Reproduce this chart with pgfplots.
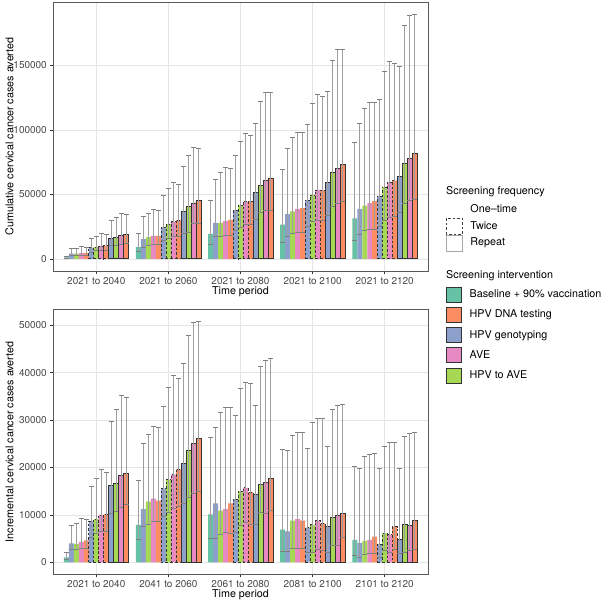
\documentclass[border=0pt]{standalone}
\usepackage{pgfplots}
\pgfplotsset{compat=1.18}
\usepackage{fontspec}
\setmainfont{TeX Gyre Heros}
\definecolor{cteal}{HTML}{66C2A5}
\definecolor{corange}{HTML}{FC8D62}
\definecolor{cblue}{HTML}{8DA0CB}
\definecolor{cpink}{HTML}{E78AC3}
\definecolor{cgreen}{HTML}{A6D854}

\pgfplotsset{
  panel/.style={
    scale only axis, width=375bp,
    xmin=0.4, xmax=5.6, xtick={1,2,3,4,5},
    axis line style={black!65, line width=0.6bp},
    grid=major, grid style={black!10, line width=0.5bp},
    tick align=outside, tick pos=left, major tick length=2.75bp,
    tick style={black!80, line width=0.5bp},
    ticklabel style={font=\fontsize{10}{12}\selectfont, text=black!72},
    /pgf/number format/assume math mode=true,
    /pgf/number format/fixed, /pgf/number format/1000 sep={},
    scaled y ticks=false,
    label style={font=\fontsize{10.8}{13}\selectfont},
    xlabel={Time period},
    legend cell align=left,
    error bars/error mark=|,
    error bars/error bar style={draw=black!38, solid, line width=0.55bp},
    error bars/error mark options={draw=black!50, solid, mark size=2.4bp, line width=0.6bp},
  },
  one/.style={fill=#1, draw=none},
  two/.style={fill=#1, draw=black!80, dash pattern=on 2.5bp off 2bp, line width=0.6bp},
  rep/.style={fill=#1, draw=black!80, solid, line width=0.6bp},
}

\newcommand{\bs}[3]{%
  \addplot[forget plot, ybar, bar width=0.0692308, bar shift=0pt, #2,
    error bars/.cd, y dir=both, y explicit]
    table[row sep=\\, x expr=\thisrow{g}+(#1)*0.0692308, y=y,
      y error plus expr=\thisrow{hi}-\thisrow{y},
      y error minus expr=\thisrow{y}-\thisrow{lo}] {g y lo hi\\ #3};
}
\newcommand{\keyB}[1]{\addlegendimage{legend image code/.code={\draw[fill=#1, draw=black!80, line width=0.5bp, solid] (0bp,-7.5bp) rectangle (15bp,7.5bp);}}}

\begin{document}
\begin{tikzpicture}
\path[use as bounding box] (0,0) rectangle (603bp,603bp);

% ---------------- top panel: cumulative ----------------
\begin{axis}[panel, at={(53bp,332bp)}, anchor=south west, height=269bp,
  ymin=-9485, ymax=199185, ytick={0,50000,100000,150000},
  ylabel={Cumulative cervical cancer cases averted},
  ylabel style={at={(axis description cs:-0.116,0.5)}, anchor=center},
  xlabel style={at={(axis description cs:0.5,-0.078)}, anchor=center},
  xticklabels={2021 to 2040, 2021 to 2060, 2021 to 2080, 2021 to 2100, 2021 to 2120},
  legend style={at={(axis description cs:1.048,0.259)}, anchor=north west,
    draw=none, fill=none, inner sep=0pt, row sep=0pt, column sep=5.7bp,
    font=\fontsize{10.8}{13}\selectfont},
]
\bs{-6}{one=cteal}{1 1050 700 2000\\ 2 9000 5700 19400\\ 3 19400 11100 45500\\ 4 26400 12900 69500\\ 5 31300 14700 90200\\}
\bs{-5}{one=cblue}{1 4000 2700 7800\\ 2 15200 9000 33000\\ 3 27900 17300 61500\\ 4 34600 17300 85500\\ 5 38800 18900 105200\\}
\bs{-4}{one=cgreen}{1 3900 2700 8300\\ 2 16800 10300 35400\\ 3 27900 17100 67200\\ 4 36700 19900 94100\\ 5 41300 22000 116500\\}
\bs{-3}{one=cpink}{1 4300 3000 9300\\ 2 17800 10900 38500\\ 3 29200 18100 71100\\ 4 38500 20700 98200\\ 5 43200 22700 121200\\}
\bs{-2}{one=corange}{1 4600 3000 9100\\ 2 17800 10900 37700\\ 3 30200 18100 70500\\ 4 39300 20700 97900\\ 5 44700 22700 121200\\}
\bs{-1}{two=cblue}{1 8700 5300 16100\\ 2 24500 14000 49300\\ 3 37700 21700 80400\\ 4 45500 25100 104400\\ 5 48800 24800 124000\\}
\bs{0}{two=cgreen}{1 9100 6200 17600\\ 2 26900 15500 54800\\ 3 41600 24500 91200\\ 4 49600 28700 120900\\ 5 55800 30200 145700\\}
\bs{1}{two=cpink}{1 10000 6500 19700\\ 2 28700 17300 59400\\ 3 44200 26400 97200\\ 4 53500 30000 127700\\ 5 59200 32000 153200\\}
\bs{2}{two=corange}{1 10100 6500 19000\\ 2 30000 17300 57900\\ 3 44700 26400 95600\\ 4 53000 30000 126100\\ 5 60700 32600 151700\\}
\bs{3}{rep=cblue}{1 16200 10400 29700\\ 2 37200 19400 71800\\ 3 51700 31000 105200\\ 4 59200 34100 130000\\ 5 64100 35900 149600\\}
\bs{4}{rep=cgreen}{1 16700 10700 32200\\ 2 40600 20700 80400\\ 3 57100 35700 122200\\ 4 66900 40800 154000\\ 5 74400 43200 180900\\}
\bs{5}{rep=cpink}{1 18300 11600 35200\\ 2 43400 27600 86300\\ 3 60500 37700 129200\\ 4 70300 43400 162300\\ 5 78000 45500 188900\\}
\bs{6}{rep=corange}{1 18800 12200 34800\\ 2 45000 27600 86000\\ 3 62800 37700 129200\\ 4 73400 44200 162300\\ 5 81900 46500 189700\\}
\addlegendimage{legend image code/.code={\path (0bp,-8bp) (16bp,8bp);}}
\addlegendentry{One–time}
\addlegendimage{legend image code/.code={\draw[fill=white, draw=black!75, line width=0.6bp, dash pattern=on 2.5bp off 2bp] (0bp,-8bp) rectangle (16bp,8bp);}}
\addlegendentry{Twice}
\addlegendimage{legend image code/.code={\draw[fill=white, draw=black!35, line width=0.6bp, solid] (0bp,-8bp) rectangle (16bp,8bp);}}
\addlegendentry{Repeat}
\end{axis}

% ---------------- bottom panel: incremental ----------------
\begin{axis}[panel, at={(53bp,28.7bp)}, anchor=south west, height=265bp,
  ymin=-2540, ymax=53340, ytick={0,10000,20000,30000,40000,50000},
  ylabel={Incremental cervical cancer cases averted},
  ylabel style={at={(axis description cs:-0.116,0.5)}, anchor=center},
  xlabel style={at={(axis description cs:0.5,-0.0755)}, anchor=center},
  xticklabels={2021 to 2040, 2041 to 2060, 2061 to 2080, 2081 to 2100, 2101 to 2120},
  legend style={at={(axis description cs:1.048,1.086)}, anchor=north west,
    draw=none, fill=none, inner sep=0pt, row sep=4.7bp, column sep=6bp,
    font=\fontsize{10.8}{13}\selectfont},
]
\bs{-6}{one=cteal}{1 1050 700 2000\\ 2 7900 4900 17200\\ 3 10100 5000 26400\\ 4 6900 2400 23900\\ 5 4700 1400 20300\\}
\bs{-5}{one=cblue}{1 4000 2700 7800\\ 2 11200 7600 25000\\ 3 12400 5000 28500\\ 4 6500 2300 23700\\ 5 4100 1100 19800\\}
\bs{-4}{one=cgreen}{1 3900 2700 8300\\ 2 12800 8000 26900\\ 3 10900 5800 31600\\ 4 8800 3000 26700\\ 5 4500 1600 22400\\}
\bs{-3}{one=cpink}{1 4300 3000 9300\\ 2 13400 8700 28700\\ 3 11200 6300 32600\\ 4 9100 3000 27300\\ 5 4700 1800 22800\\}
\bs{-2}{one=corange}{1 4600 3000 9100\\ 2 13000 8700 28500\\ 3 12400 6000 32600\\ 4 8800 3000 27300\\ 5 5400 1800 22900\\}
\bs{-1}{two=cblue}{1 8700 5300 16100\\ 2 15500 9700 32800\\ 3 13300 6400 30900\\ 4 7300 2000 24000\\ 5 3800 1000 19900\\}
\bs{0}{two=cgreen}{1 9100 6200 17600\\ 2 17400 10500 36800\\ 3 15000 7800 36600\\ 4 7900 2200 29600\\ 5 6100 2500 24500\\}
\bs{1}{two=cpink}{1 10000 6500 19700\\ 2 18500 11400 39400\\ 3 15700 8400 38000\\ 4 8800 2700 30300\\ 5 5800 2200 25200\\}
\bs{2}{two=corange}{1 10100 6500 19000\\ 2 19600 11700 38700\\ 3 14800 7900 37700\\ 4 8200 2500 30300\\ 5 7500 2700 25300\\}
\bs{3}{rep=cblue}{1 16200 10400 29700\\ 2 20800 12400 42000\\ 3 14400 8100 33200\\ 4 7500 2200 24500\\ 5 4900 1900 19900\\}
\bs{4}{rep=cgreen}{1 16700 10700 32200\\ 2 23700 13700 47900\\ 3 16400 10500 41400\\ 4 9500 3600 32200\\ 5 7900 2100 26600\\}
\bs{5}{rep=cpink}{1 18300 11600 35200\\ 2 25000 14500 50700\\ 3 16900 10300 42600\\ 4 9800 3600 33000\\ 5 7800 2500 27100\\}
\bs{6}{rep=corange}{1 18800 12200 34800\\ 2 26100 15000 50800\\ 3 17600 11000 43000\\ 4 10300 5300 33300\\ 5 8900 2800 27500\\}
\keyB{cteal}
\addlegendentry{Baseline + 90\% vaccination}
\keyB{corange}
\addlegendentry{HPV DNA testing}
\keyB{cblue}
\addlegendentry{HPV genotyping}
\keyB{cpink}
\addlegendentry{AVE}
\keyB{cgreen}
\addlegendentry{HPV to AVE}
\end{axis}

\node[anchor=west, inner sep=0pt, font=\fontsize{10.8}{13}\selectfont] at (446bp,411.5bp) {Screening frequency};
\node[anchor=west, inner sep=0pt, font=\fontsize{10.8}{13}\selectfont] at (446bp,327bp) {Screening intervention};
\end{tikzpicture}
\end{document}
